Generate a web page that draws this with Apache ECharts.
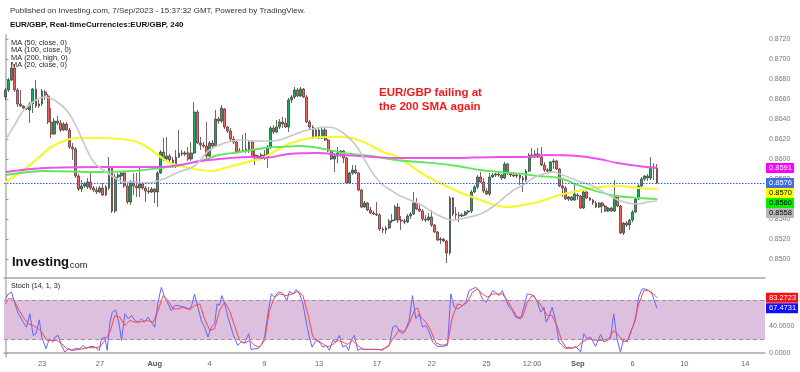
<!DOCTYPE html>
<html><head><meta charset="utf-8">
<script src="https://cdn.jsdelivr.net/npm/echarts@6.0.0/dist/echarts.min.js"></script>
<style>html,body{margin:0;padding:0;background:#fff}#c{width:800px;height:372px}</style>
</head><body><div id="c"></div>
<script>
// ---------------- DATA ----------------
const N_SLOTS = 250; // 4h slots on the time axis, including empty future space
const opens = [0.8662,0.8669,0.8679,0.8691,0.8669,0.8655,0.8653,0.8651,0.8649,0.8655,
0.8670,0.8653,0.8655,0.8667,0.8663,0.8637,0.8625,0.8638,0.8636,0.8629,
0.8635,0.8629,0.8612,0.8610,0.8583,0.8570,0.8573,0.8572,0.8577,0.8571,
0.8569,0.8567,0.8571,0.8564,0.8571,0.8592,0.8548,0.8582,0.8583,0.8586,
0.8573,0.8557,0.8577,0.8573,0.8571,0.8575,0.8571,0.8568,0.8567,0.8570,
0.8567,0.8586,0.8607,0.8600,0.8603,0.8599,0.8593,0.8602,0.8606,0.8605,
0.8606,0.8600,0.8606,0.8647,0.8616,0.8614,0.8613,0.8603,0.8616,0.8613,
0.8640,0.8638,0.8650,0.8632,0.8628,0.8620,0.8617,0.8608,0.8608,0.8610,
0.8608,0.8617,0.8604,0.8601,0.8603,0.8604,0.8602,0.8612,0.8631,0.8627,
0.8632,0.8637,0.8636,0.8632,0.8659,0.8662,0.8669,0.8663,0.8670,0.8662,
0.8637,0.8632,0.8622,0.8629,0.8621,0.8629,0.8619,0.8608,0.8600,0.8603,
0.8606,0.8608,0.8601,0.8576,0.8586,0.8589,0.8586,0.8569,0.8552,0.8556,
0.8549,0.8546,0.8545,0.8544,0.8530,0.8529,0.8531,0.8538,0.8539,0.8552,
0.8539,0.8538,0.8537,0.8543,0.8545,0.8556,0.8550,0.8548,0.8540,0.8539,
0.8542,0.8534,0.8527,0.8519,0.8520,0.8518,0.8506,0.8561,0.8545,0.8544,
0.8543,0.8544,0.8547,0.8548,0.8567,0.8572,0.8582,0.8577,0.8568,0.8565,
0.8582,0.8584,0.8585,0.8584,0.8581,0.8595,0.8586,0.8584,0.8583,0.8584,
0.8581,0.8579,0.8588,0.8604,0.8602,0.8605,0.8602,0.8594,0.8589,0.8588,
0.8597,0.8598,0.8590,0.8573,0.8571,0.8560,0.8562,0.8559,0.8563,0.8563,
0.8551,0.8567,0.8561,0.8559,0.8556,0.8552,0.8556,0.8553,0.8548,0.8551,
0.8548,0.8562,0.8553,0.8526,0.8536,0.8534,0.8539,0.8547,0.8560,0.8573,
0.8580,0.8583,0.8581,0.8592,0.8591];
const closes = [0.8669,0.8679,0.8691,0.8669,0.8655,0.8653,0.8651,0.8650,0.8655,0.8670,
0.8653,0.8655,0.8668,0.8664,0.8637,0.8625,0.8638,0.8636,0.8629,0.8635,
0.8629,0.8612,0.8610,0.8583,0.8570,0.8573,0.8575,0.8577,0.8571,0.8569,
0.8567,0.8571,0.8564,0.8572,0.8592,0.8548,0.8582,0.8584,0.8586,0.8573,
0.8557,0.8577,0.8573,0.8571,0.8575,0.8571,0.8568,0.8567,0.8570,0.8567,
0.8586,0.8607,0.8600,0.8603,0.8599,0.8593,0.8602,0.8606,0.8605,0.8606,
0.8600,0.8606,0.8647,0.8616,0.8614,0.8613,0.8603,0.8616,0.8613,0.8640,
0.8638,0.8651,0.8632,0.8628,0.8620,0.8617,0.8607,0.8607,0.8609,0.8608,
0.8617,0.8602,0.8601,0.8603,0.8604,0.8602,0.8612,0.8631,0.8627,0.8632,
0.8637,0.8635,0.8632,0.8659,0.8662,0.8669,0.8663,0.8670,0.8662,0.8637,
0.8632,0.8622,0.8629,0.8621,0.8629,0.8619,0.8608,0.8600,0.8603,0.8606,
0.8608,0.8601,0.8576,0.8586,0.8589,0.8586,0.8569,0.8552,0.8556,0.8549,
0.8546,0.8545,0.8544,0.8530,0.8529,0.8531,0.8538,0.8539,0.8552,0.8539,
0.8538,0.8537,0.8543,0.8545,0.8556,0.8550,0.8548,0.8540,0.8539,0.8542,
0.8534,0.8527,0.8519,0.8520,0.8518,0.8506,0.8561,0.8545,0.8544,0.8543,
0.8544,0.8547,0.8548,0.8567,0.8572,0.8582,0.8577,0.8568,0.8565,0.8582,
0.8584,0.8585,0.8584,0.8581,0.8595,0.8586,0.8584,0.8583,0.8584,0.8581,
0.8579,0.8588,0.8604,0.8602,0.8605,0.8602,0.8594,0.8589,0.8588,0.8597,
0.8598,0.8590,0.8573,0.8571,0.8560,0.8562,0.8559,0.8565,0.8564,0.8551,
0.8567,0.8561,0.8559,0.8556,0.8552,0.8556,0.8553,0.8548,0.8551,0.8548,
0.8562,0.8553,0.8526,0.8536,0.8534,0.8539,0.8547,0.8560,0.8573,0.8580,
0.8583,0.8581,0.8592,0.8591,0.8576];
const lows = [0.8659,0.8667,0.8678,0.8667,0.8652,0.8652,0.8650,0.8649,0.8636,0.8646,
0.8651,0.8651,0.8653,0.8659,0.8635,0.8621,0.8624,0.8634,0.8627,0.8628,
0.8628,0.8610,0.8599,0.8581,0.8568,0.8567,0.8571,0.8570,0.8569,0.8567,
0.8565,0.8566,0.8563,0.8563,0.8569,0.8546,0.8546,0.8579,0.8575,0.8571,
0.8555,0.8554,0.8564,0.8562,0.8562,0.8569,0.8557,0.8565,0.8566,0.8556,
0.8552,0.8585,0.8598,0.8597,0.8597,0.8591,0.8591,0.8601,0.8603,0.8603,
0.8598,0.8598,0.8605,0.8615,0.8609,0.8611,0.8601,0.8601,0.8611,0.8612,
0.8635,0.8636,0.8630,0.8626,0.8618,0.8615,0.8605,0.8606,0.8607,0.8606,
0.8606,0.8601,0.8594,0.8599,0.8601,0.8599,0.8591,0.8610,0.8625,0.8626,
0.8630,0.8631,0.8631,0.8627,0.8656,0.8660,0.8662,0.8662,0.8661,0.8636,
0.8629,0.8620,0.8621,0.8620,0.8620,0.8618,0.8607,0.8599,0.8587,0.8596,
0.8602,0.8596,0.8575,0.8575,0.8584,0.8585,0.8568,0.8551,0.8551,0.8548,
0.8545,0.8544,0.8543,0.8528,0.8526,0.8525,0.8530,0.8536,0.8538,0.8536,
0.8529,0.8535,0.8536,0.8540,0.8544,0.8549,0.8547,0.8538,0.8537,0.8538,
0.8532,0.8526,0.8518,0.8515,0.8517,0.8496,0.8504,0.8543,0.8539,0.8537,
0.8542,0.8543,0.8545,0.8546,0.8566,0.8570,0.8576,0.8566,0.8564,0.8563,
0.8581,0.8582,0.8582,0.8579,0.8580,0.8584,0.8582,0.8582,0.8581,0.8574,
0.8567,0.8577,0.8587,0.8601,0.8601,0.8601,0.8593,0.8587,0.8586,0.8587,
0.8590,0.8589,0.8572,0.8562,0.8559,0.8558,0.8558,0.8558,0.8559,0.8550,
0.8550,0.8560,0.8558,0.8554,0.8551,0.8551,0.8546,0.8547,0.8547,0.8547,
0.8547,0.8552,0.8525,0.8524,0.8532,0.8529,0.8537,0.8546,0.8559,0.8572,
0.8578,0.8578,0.8579,0.8579,0.8575];
const highs = [0.8671,0.8681,0.8697,0.8695,0.8671,0.8669,0.8654,0.8652,0.8657,0.8671,
0.8679,0.8659,0.8670,0.8669,0.8665,0.8651,0.8641,0.8643,0.8639,0.8637,
0.8637,0.8631,0.8616,0.8612,0.8585,0.8579,0.8577,0.8581,0.8588,0.8573,
0.8572,0.8573,0.8576,0.8574,0.8602,0.8593,0.8585,0.8586,0.8588,0.8587,
0.8575,0.8579,0.8586,0.8586,0.8591,0.8577,0.8573,0.8572,0.8572,0.8571,
0.8588,0.8609,0.8621,0.8622,0.8605,0.8602,0.8609,0.8629,0.8609,0.8608,
0.8612,0.8617,0.8657,0.8649,0.8622,0.8617,0.8637,0.8618,0.8619,0.8649,
0.8642,0.8654,0.8651,0.8633,0.8631,0.8623,0.8619,0.8611,0.8624,0.8626,
0.8619,0.8618,0.8609,0.8604,0.8606,0.8609,0.8614,0.8633,0.8634,0.8639,
0.8640,0.8642,0.8641,0.8661,0.8664,0.8672,0.8671,0.8672,0.8671,0.8664,
0.8639,0.8634,0.8631,0.8631,0.8632,0.8631,0.8620,0.8609,0.8606,0.8612,
0.8609,0.8609,0.8602,0.8587,0.8594,0.8594,0.8587,0.8570,0.8558,0.8557,
0.8552,0.8548,0.8557,0.8546,0.8532,0.8533,0.8540,0.8545,0.8554,0.8556,
0.8543,0.8540,0.8545,0.8547,0.8567,0.8561,0.8556,0.8550,0.8544,0.8546,
0.8549,0.8535,0.8528,0.8522,0.8521,0.8519,0.8563,0.8562,0.8552,0.8547,
0.8546,0.8548,0.8549,0.8569,0.8574,0.8584,0.8587,0.8581,0.8571,0.8586,
0.8586,0.8586,0.8587,0.8585,0.8597,0.8596,0.8587,0.8587,0.8586,0.8585,
0.8583,0.8590,0.8606,0.8611,0.8609,0.8611,0.8612,0.8597,0.8591,0.8598,
0.8600,0.8599,0.8591,0.8579,0.8573,0.8563,0.8563,0.8576,0.8566,0.8564,
0.8569,0.8568,0.8562,0.8560,0.8558,0.8557,0.8557,0.8554,0.8552,0.8552,
0.8579,0.8563,0.8554,0.8537,0.8538,0.8540,0.8549,0.8562,0.8575,0.8582,
0.8584,0.8585,0.8602,0.8596,0.8595];

// moving averages: [slot index, value]
const ma20 = [[0,0.8619],[3,0.8634],[6,0.8649],[10,0.8659],[13,0.8662],[16,0.8659],[20,0.8649],[23,0.8634],[26,0.8614],[29,0.8597],[33,0.8587],[36,0.8581],[39,0.8577],[42,0.8577],[46,0.8576],[51,0.8579],[57,0.8587],[62,0.8593],[67,0.8609],[72,0.8616],[77,0.8619],[82,0.8618],[88,0.8618],[92,0.8621],[97,0.8627],[101,0.8630],[105,0.8632],[108,0.8631],[111,0.8626],[115,0.8614],[118,0.8599],[121,0.8584],[124,0.8574],[127,0.8568],[129,0.8564],[136,0.8555],[142,0.8544],[147,0.8539],[151,0.8541],[156,0.8545],[160,0.8552],[164,0.8562],[167,0.8569],[170,0.8574],[174,0.8582],[178,0.8586],[180,0.8587],[183,0.8584],[188,0.8578],[193,0.8573],[198,0.8564],[203,0.8557],[208,0.8555],[211,0.8557],[214,0.8558]];
const ma50 = [[0,0.8577],[5,0.8587],[10,0.8599],[15,0.8612],[20,0.8619],[24,0.8621],[31,0.8621],[38,0.8620],[42,0.8618],[44,0.8616],[47,0.8611],[51,0.8602],[54,0.8596],[59,0.8592],[64,0.8589],[68,0.8588],[72,0.8591],[77,0.8595],[82,0.8599],[84,0.8600],[88,0.8607],[93,0.8615],[100,0.8621],[106,0.8622],[111,0.8622],[116,0.8619],[121,0.8612],[124,0.8607],[128,0.8603],[131,0.8598],[136,0.8587],[142,0.8577],[149,0.8567],[156,0.8559],[162,0.8553],[165,0.8552],[170,0.8554],[175,0.8557],[182,0.8564],[188,0.8568],[195,0.8572],[201,0.8573],[208,0.8571],[214,0.8570]];
const ma100 = [[0,0.8584],[13,0.8588],[31,0.8587],[42,0.8588],[51,0.8591],[56,0.8593],[64,0.8598],[70,0.8604],[77,0.8607],[85,0.8611],[90,0.8612],[97,0.8613],[103,0.8611],[111,0.8606],[120,0.8603],[128,0.8599],[136,0.8597],[146,0.8594],[156,0.8589],[162,0.8587],[170,0.8585],[175,0.8583],[182,0.8581],[188,0.8574],[195,0.8567],[201,0.8563],[208,0.8561],[214,0.8560]];
const ma200 = [[0,0.8587],[13,0.8591],[31,0.8592],[42,0.8592],[51,0.8592],[57,0.8594],[64,0.8598],[74,0.8601],[80,0.8602],[85,0.8601],[93,0.8605],[103,0.8606],[110,0.8604],[116,0.8603],[128,0.8601],[146,0.8601],[162,0.8602],[170,0.8602],[178,0.8604],[188,0.8603],[195,0.8600],[201,0.8596],[208,0.8593],[214,0.8591]];

// stochastic (14,1,3): [slot position, value]
const stochK = [[0,81.5],[0.9,89],[2.0,91.5],[3.1,74],[4.2,59],[5.8,46.5],[6.9,39],[8.0,59],[9.1,26.5],[10.0,29],[11.1,50],[11.9,24],[13.3,6.5],[14.4,21.5],[15.5,16.5],[16.2,24],[17.3,26.5],[18.4,11.5],[19.5,1.5],[20.6,6.5],[21.7,4],[22.8,6.5],[24.4,6.5],[25.5,11.5],[26.6,6.5],[27.7,10],[29.3,9],[30.8,4],[31.5,21.5],[32.6,24],[33.4,4],[34.3,46.5],[35.1,61.5],[36.2,65],[37.3,44],[38.1,19],[39.2,59],[40.3,51.5],[41.4,56.5],[42.5,49],[43.6,46.5],[44.6,51.5],[45.7,46.5],[46.8,54],[47.9,46.5],[49.0,39],[50.1,76.5],[51.2,99],[52.3,84],[53.4,74],[54.5,64],[55.6,71.5],[56.7,71.5],[57.8,70],[58.9,69],[60.0,66.5],[61.0,69],[62.1,89],[63.2,69],[64.3,49],[65.4,39],[66.5,24],[67.6,39],[68.7,44],[69.5,74],[70.3,71.5],[71.1,86.5],[72.0,74],[73.1,54],[74.7,29],[76.3,11.5],[77.4,16.5],[78.5,15],[79.9,29],[80.7,5],[81.8,6.5],[82.9,6.5],[84.0,11.5],[85.1,24],[86.2,59],[87.3,89],[88.4,84],[89.5,91.5],[90.6,91.5],[91.6,86.5],[92.4,79],[93.3,93],[94.4,89],[95.5,95.5],[96.6,89],[97.7,74],[98.7,49],[99.8,24],[100.7,9],[102.0,19],[103.1,16.5],[104.2,9],[105.3,11.5],[106.4,4],[107.5,19],[108.6,16.5],[109.7,26.5],[110.8,9],[111.9,11.5],[112.7,4],[113.5,19],[114.6,26.5],[115.7,4],[116.8,6.5],[118.4,5.5],[120.6,5.5],[122.8,5.5],[123.9,4],[125.0,9],[126.1,11.5],[127.2,39],[128.3,41.5],[129.3,33],[130.4,29],[131.5,36.5],[132.6,49],[133.7,86.5],[134.8,51.5],[135.9,59],[137.0,39],[138.1,41.5],[139.2,31.5],[140.3,16.5],[141.9,10],[143.5,10],[145.2,11.5],[146.3,89],[147.4,69],[148.5,66.5],[149.6,69],[151.2,76.5],[152.3,94],[153.4,96.5],[154.5,99],[155.6,94],[156.7,81.5],[157.8,76.5],[158.9,84],[160.0,94],[161.0,91.5],[162.1,86.5],[163.2,94],[164.3,81.5],[165.4,69],[166.5,64],[167.6,54],[169.2,51.5],[170.3,69],[171.4,89],[172.5,88],[173.6,86.5],[174.7,76.5],[175.8,61.5],[176.9,69],[177.6,46.5],[178.5,54],[179.6,69],[180.7,49],[181.8,16.5],[182.9,11.5],[184.0,6.5],[185.1,9],[186.2,6.5],[187.3,10],[188.9,1.5],[190.0,29],[191.1,21.5],[192.2,24],[193.8,10],[195.5,28],[196.6,16.5],[197.6,19],[198.7,21.5],[199.8,59],[200.9,21.5],[202.0,1.5],[203.1,21.5],[204.2,16.5],[205.3,31.5],[206.9,49],[208.0,84],[209.1,96.5],[210.2,96.5],[211.3,94],[212.4,89],[214,67.4731]];
const stochD = [[0,74],[0.9,81.5],[2.6,81.5],[4.2,66.5],[5.8,54],[7.5,44],[9.1,41.5],[10.8,36.5],[11.9,31.5],[13.5,19],[15.1,19],[16.8,19],[18.4,14],[20.1,6.5],[22.2,4],[24.4,5.5],[26.6,8],[28.8,8],[31.0,9],[32.6,19],[34.3,31.5],[35.9,56.5],[37.5,54],[39.2,41.5],[40.8,49],[42.5,46.5],[44.1,46.5],[46.3,49],[48.5,46.5],[50.1,64],[51.8,86.5],[53.4,79],[55.0,66.5],[56.7,66.5],[58.3,69],[60.5,65],[62.1,71.5],[63.8,74],[65.4,51.5],[67.1,34],[68.7,36.5],[70.3,64],[72.0,76.5],[73.6,64],[75.2,41.5],[76.9,19],[78.5,15],[80.2,19],[81.8,11.5],[83.4,9],[85.1,19],[86.7,64],[88.4,84],[90.0,89],[92.2,86.5],[94.4,89],[96.0,93],[97.7,86.5],[99.3,59],[101.0,24],[102.6,19],[104.2,14],[105.9,9],[107.5,13],[109.1,19],[110.8,16.5],[112.4,13],[114.0,19],[115.7,11.5],[117.3,5.5],[120.6,5.5],[123.3,5],[125.5,9],[127.7,24],[129.3,35],[131.0,31.5],[132.6,44],[134.3,64],[135.3,68],[136.4,54],[138.1,46.5],[139.7,34],[141.4,15],[143.5,11.5],[145.2,14],[146.8,54],[148.5,74],[150.1,71.5],[151.7,76.5],[153.4,91.5],[155.0,96.5],[156.7,89],[158.3,84],[160.0,89],[161.6,89],[163.2,89],[164.9,79],[166.5,66.5],[168.1,54],[169.8,54],[171.4,76.5],[173.0,86.5],[174.7,79],[176.3,69],[178.0,56.5],[179.6,56.5],[181.3,39],[182.9,16.5],[184.5,6.5],[186.2,8],[187.8,9],[189.4,16.5],[191.6,21.5],[193.8,19],[196.0,19],[198.2,21.5],[199.8,34],[201.5,26.5],[203.1,16.5],[204.7,21.5],[206.4,44],[208.0,74],[209.7,94],[211.3,94],[212.9,89],[214,83.2723]];

const priceTicks = [0.8500,0.8520,0.8540,0.8560,0.8580,0.8600,0.8620,0.8640,0.8660,0.8680,0.8700,0.8720];
const stochTicks = [0, 40, 80];
const stochBand = [20, 80];
const dateLabelIdx  = [12, 31, 49, 67, 85, 103, 122, 140, 158, 173, 188, 206, 223, 243];
const dateLabelText = ['23','27','Aug','4','9','13','17','22','25','12:00','Sep','6','10','14'];
const monthLabels = ['Aug','Sep'];
const priceTagValues = [0.8591, 0.8576, 0.8570, 0.8560, 0.8558];
const stochTagValues = [83.2723, 67.4731];

const publishedText = 'Published on Investing.com, 7/Sep/2023 - 15:37:32 GMT, Powered by TradingView.';
const titleText = 'EUR/GBP, Real-timeCurrencies:EUR/GBP, 240';
const legendLines = ['MA (50, close, 0)','MA (100, close, 0)','MA (200, high, 0)','MA (20, close, 0)'];
const noteLines = ['EUR/GBP failing at','the 200 SMA again'];
const stochTitle = 'Stoch (14, 1, 3)';

// ---------------- CHART ----------------
const FONT = '"Liberation Sans", Arial, sans-serif';
const cats = Array.from({length: N_SLOTS}, (_, i) => String(i));
const labelMap = new Map(dateLabelIdx.map((v, k) => [v, dateLabelText[k]]));
const candles = opens.map((o, i) => [o, closes[i], lows[i], highs[i]]);
const lastClose = closes[closes.length - 1];

const chart = echarts.init(document.getElementById('c'), null, {renderer: 'canvas'});
const maLine = (data, color, width, z) => ({
  type: 'line', xAxisIndex: 1, yAxisIndex: 0, data, smooth: 0.35, showSymbol: false,
  lineStyle: {color, width}, z, silent: true
});
chart.setOption({
  animation: false,
  backgroundColor: '#fff',
  grid: [
    {left: 4, right: 35, top: 35, height: 243},
    {left: 4, right: 35, top: 278, height: 79}
  ],
  xAxis: [
    {type: 'category', gridIndex: 0, data: cats, boundaryGap: true,
     axisLine: {show: true, lineStyle: {color: '#a6a6a6', width: 1.5}},
     axisTick: {show: false}, axisLabel: {show: false}, splitLine: {show: false}},
    {type: 'value', gridIndex: 0, min: -0.5, max: N_SLOTS - 0.5, show: false},
    {type: 'category', gridIndex: 1, data: cats, boundaryGap: true,
     axisLine: {show: true, lineStyle: {color: '#a6a6a6', width: 1.5}},
     axisTick: {show: false}, splitLine: {show: false},
     axisLabel: {
       interval: (idx) => labelMap.has(idx), showMinLabel: true, showMaxLabel: true, hideOverlap: false,
       margin: 3, color: '#666', fontSize: 7.5, fontFamily: FONT,
       formatter: (v) => { const t = labelMap.get(+v) || ''; return monthLabels.includes(t) ? '{b|' + t + '}' : t; },
       rich: {b: {fontWeight: 'bold', color: '#555', fontSize: 7.5, fontFamily: FONT}}
     }},
    {type: 'value', gridIndex: 1, min: -0.5, max: N_SLOTS - 0.5, show: false}
  ],
  yAxis: [
    {type: 'value', gridIndex: 0, position: 'right', min: 0.8481, max: 0.8724, scale: true,
     axisLine: {show: true, lineStyle: {color: '#b0b0b0', width: 1.5}},
     axisTick: {show: true, length: 3, lineStyle: {color: '#999'}, customValues: priceTicks},
     axisLabel: {customValues: priceTicks, formatter: (v) => v.toFixed(4), color: '#777', fontSize: 7, fontFamily: FONT, margin: 4},
     splitLine: {show: false}},
    {type: 'value', gridIndex: 1, position: 'right', min: -6, max: 113,
     axisLine: {show: true, lineStyle: {color: '#b0b0b0', width: 1.5}},
     axisTick: {show: true, length: 3, lineStyle: {color: '#999'}, customValues: stochTicks},
     axisLabel: {customValues: stochTicks, formatter: (v) => v.toFixed(4), color: '#777', fontSize: 7, fontFamily: FONT, margin: 4},
     splitLine: {show: false}}
  ],
  series: [
    {type: 'line', xAxisIndex: 1, yAxisIndex: 0, data: [], z: 1, silent: true,
     markLine: {silent: true, precision: 6, symbol: ['none','none'], label: {show: false},
       lineStyle: {type: [1.5, 1.5], color: '#2a5cff', width: 1}, data: [{yAxis: lastClose}]}},
    {type: 'candlestick', xAxisIndex: 0, yAxisIndex: 0, data: candles, barWidth: '78%', z: 2,
     itemStyle: {color: '#17a862', color0: '#f0645c', borderColor: '#3c4a40', borderColor0: '#5a3a38', borderWidth: 0.8}},
    maLine(ma50, '#f7f72e', 2.2, 3),
    maLine(ma100, '#5de85d', 1.8, 3),
    maLine(ma200, '#f050f0', 1.8, 3),
    maLine(ma20, '#c8c8c8', 1.6, 4),
    {type: 'line', xAxisIndex: 3, yAxisIndex: 1, data: [], z: 1, silent: true,
     markArea: {silent: true, itemStyle: {color: '#dcc0de'}, data: [[{yAxis: stochBand[0]}, {yAxis: stochBand[1]}]]},
     markLine: {silent: true, precision: 6, symbol: ['none','none'], label: {show: false},
       lineStyle: {type: [4, 3], color: '#a3909f', width: 1.2},
       data: [{yAxis: stochBand[0]}, {yAxis: stochBand[1]}]}},
    {type: 'line', xAxisIndex: 3, yAxisIndex: 1, data: stochK, showSymbol: false, z: 3,
     lineStyle: {color: '#6464ff', width: 1}},
    {type: 'line', xAxisIndex: 3, yAxisIndex: 1, data: stochD, showSymbol: false, z: 4,
     lineStyle: {color: '#ff4646', width: 1}}
  ]
});

// ---------- annotations & value tags ----------
const g = [];
g.push({type: 'text', left: 10, top: 7, z: 100, style: {text: publishedText, font: '8px ' + FONT, fill: '#333'}});
g.push({type: 'text', left: 10, top: 21, z: 100, style: {text: titleText, font: 'bold 8px ' + FONT, fill: '#111'}});
legendLines.forEach((t, k) => g.push({type: 'text', left: 11, top: 39.5 + k * 7.3, z: 1, style: {text: t, font: '7.4px ' + FONT, fill: '#222'}}));
g.push({type: 'text', left: 12, top: 256, z: 100, style: {text: 'Investing', font: 'bold 13px ' + FONT, fill: '#111'}});
g.push({type: 'text', left: 67, top: 260, z: 100, style: {text: '.com', font: '9.5px ' + FONT, fill: '#222'}});
noteLines.forEach((t, k) => g.push({type: 'text', left: 379, top: 87 + k * 14, z: 100, style: {text: t, font: 'bold 11.5px ' + FONT, fill: '#ee1c1c'}}));
g.push({type: 'text', left: 11, top: 283, z: 100, style: {text: stochTitle, font: '7.2px ' + FONT, fill: '#222'}});

const priceTagStyle = [['#ff00ff','#fff'],['#3f6fe0','#fff'],['#ffff00','#000'],['#00ee00','#000'],['#b8b8b8','#000']];
const stochTagStyle = [['#ff1010','#fff'],['#1010ff','#fff']];
const axisX = 800 - 35;
function addTags(values, styles, axisIdx, w) {
  let prev = -1e9;
  values.forEach((v, k) => {
    let y = chart.convertToPixel({yAxisIndex: axisIdx}, v);
    y = Math.max(y, prev + 10); prev = y;
    g.push({type: 'rect', z: 200, shape: {x: axisX + 1, y: y - 5, width: w, height: 10}, style: {fill: styles[k][0]}});
    g.push({type: 'text', z: 201, x: axisX + 4, y: y, style: {text: v.toFixed(4), font: '7.5px ' + FONT, fill: styles[k][1], verticalAlign: 'middle', align: 'left'}});
  });
}
addTags(priceTagValues, priceTagStyle, 0, 28);
addTags(stochTagValues, stochTagStyle, 1, 32);
chart.setOption({graphic: g});
</script></body></html>
